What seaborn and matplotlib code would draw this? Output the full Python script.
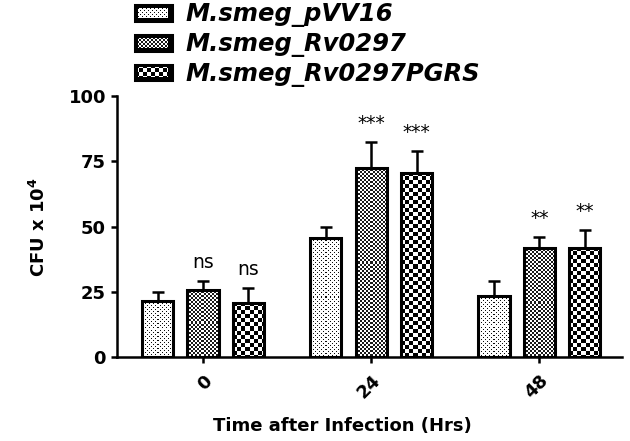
import numpy as np
import pandas as pd
import seaborn as sns
import matplotlib
matplotlib.use("Agg")
import matplotlib.pyplot as plt
from matplotlib.patches import Patch

times = ["0", "24", "48"]
strains = ["M.smeg_pVV16", "M.smeg_Rv0297", "M.smeg_Rv0297PGRS"]
cfu_pvv16 = [21.5, 45.6, 23.4]
cfu_rv0297 = [25.7, 72.4, 41.8]
cfu_pgrs = [20.7, 70.5, 42.0]
err_pvv16 = [3.5, 4.2, 5.6]
err_rv0297 = [3.5, 10.0, 4.2]
err_pgrs = [5.8, 8.5, 6.6]
sig_pvv16 = ["", "", ""]
sig_rv0297 = ["ns", "***", "**"]
sig_pgrs = ["ns", "***", "**"]
patterns = ["dots", "fine", "coarse"]

df = pd.DataFrame({
    "time": times * 3,
    "strain": [s for s in strains for _ in times],
    "cfu": cfu_pvv16 + cfu_rv0297 + cfu_pgrs,
})
errs = [err_pvv16, err_rv0297, err_pgrs]
sigs = [sig_pvv16, sig_rv0297, sig_pgrs]


def texture(kind, h, w, border=0):
    i, j = np.mgrid[0:h, 0:w]
    if kind == "dots":
        arr = np.where(((i % 4 == 1) & (j % 4 == 1)) | ((i % 4 == 3) & (j % 4 == 3)), 0.05, 1.0)
    elif kind == "fine":
        arr = np.where((i // 2 + j // 2) % 2 == 0, 0.1, 1.0)
    else:
        arr = np.where((i // 4 + j // 4) % 2 == 0, 0.0, 1.0)
    if border:
        arr[:border, :] = 0
        arr[-border:, :] = 0
        arr[:, :border] = 0
        arr[:, -border:] = 0
    return arr


sns.set_style("ticks")
plt.rcParams["font.family"] = ["DejaVu Sans"]
plt.rcParams["font.weight"] = "bold"
plt.rcParams["text.color"] = "black"
plt.rcParams["axes.labelcolor"] = "black"
plt.rcParams["mathtext.fontset"] = "dejavusans"

fig = plt.figure(figsize=(6.3, 4.41), dpi=100)
ax = fig.add_axes([0.186, 0.190, 0.801, 0.592])

sns.barplot(data=df, x="time", y="cfu", hue="strain", order=times, hue_order=strains,
            palette=["white"] * 3, errorbar=None, width=0.81, gap=0.31,
            edgecolor="black", linewidth=2.2, legend=False, ax=ax)

ax.set_xlim(-0.51, 2.49)
ax.set_ylim(0, 100)

for cont, err, sig, pat in zip(ax.containers, errs, sigs, patterns):
    xs, tops = [], []
    for bar in cont:
        bar.set_facecolor("none")
        bar.set_zorder(3)
        bb = bar.get_window_extent()
        arr = texture(pat, max(int(round(bb.height)), 1), max(int(round(bb.width)), 1))
        x0 = bar.get_x()
        im = ax.imshow(arr, cmap="gray", vmin=0, vmax=1, interpolation="nearest",
                       extent=(x0, x0 + bar.get_width(), 0, bar.get_height()),
                       aspect="auto", zorder=2)
        im.set_clip_path(bar)
        xs.append(x0 + bar.get_width() / 2)
        tops.append(bar.get_height())
    ax.errorbar(xs, tops, yerr=[np.zeros(len(err)), err], fmt="none", ecolor="black",
                elinewidth=1.8, capsize=4.5, capthick=1.8, zorder=2.5)
    for x, t, e, s in zip(xs, tops, err, sig):
        if s:
            ax.annotate(s, (x, t + e), xytext=(0, 6.5), textcoords="offset points",
                        ha="center", va="bottom", fontsize=13.5, fontweight="normal",
                        color="black")

ax.set_xlim(-0.51, 2.49)
ax.set_ylim(0, 100)
ax.set_yticks([0, 25, 50, 75, 100])
for side in ["top", "right"]:
    ax.spines[side].set_visible(False)
for side in ["left", "bottom"]:
    ax.spines[side].set_linewidth(1.8)
    ax.spines[side].set_color("black")
ax.tick_params(axis="both", width=1.8, length=4.5, labelsize=13, colors="black")
ax.tick_params(axis="x", pad=6)
ax.set_xticks(range(len(times)))
ax.set_xticklabels(times, rotation=45, ha="right", rotation_mode="anchor", fontweight="bold")
for lab in ax.get_yticklabels():
    lab.set_fontweight("bold")

ax.set_xlabel("Time after Infection (Hrs)", fontsize=13, fontweight="bold")
ax.xaxis.set_label_coords(0.446, -0.23)
ax.set_ylabel(r"CFU x 10$^{\mathbf{4}}$", fontsize=13, fontweight="bold", labelpad=14)

handles = [Patch(facecolor="white", edgecolor="black", linewidth=2.2) for _ in strains]
leg = fig.legend(handles, strains, loc="upper left", bbox_to_anchor=(0.211, 1.0),
                 frameon=False, prop=dict(weight="bold", style="italic", size=17.5),
                 handlelength=1.5, handleheight=0.62, handletextpad=0.55,
                 labelspacing=0.2, borderaxespad=0, borderpad=0.1)
for t in leg.get_texts():
    t.set_color("black")

fig.canvas.draw()
for p, pat in zip(leg.get_patches(), patterns):
    bb = p.get_window_extent()
    arr = texture(pat, int(round(bb.height)), int(round(bb.width)), border=3)
    fig.figimage(arr, xo=int(round(bb.x0)), yo=int(round(bb.y0)), cmap="gray",
                 vmin=0, vmax=1, zorder=10)

fig.savefig("out.png", dpi=100)
